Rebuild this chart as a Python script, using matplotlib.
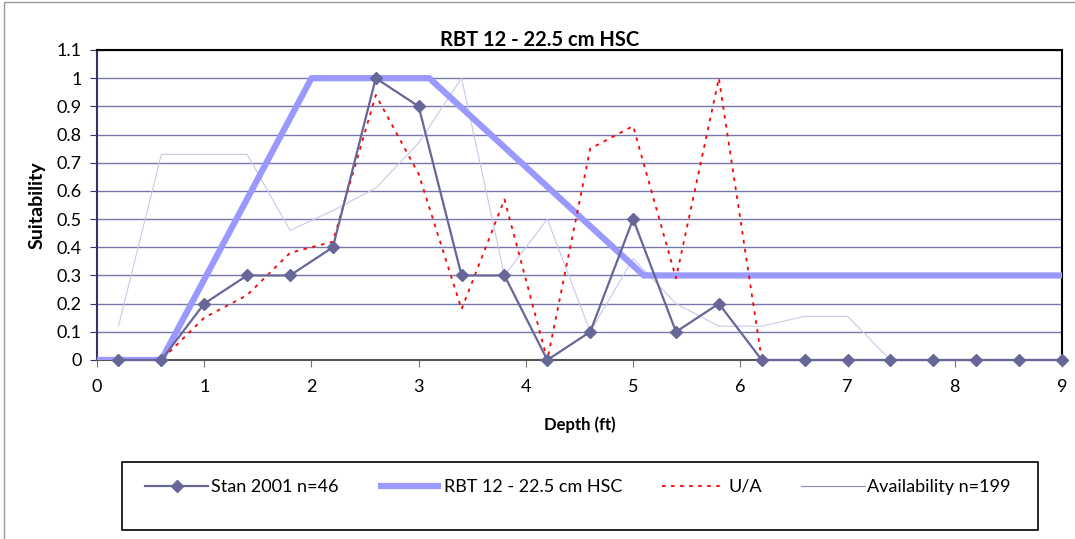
import numpy as np
import matplotlib.pyplot as plt
from matplotlib.patches import Rectangle

depth = [0.2, 0.6, 1.0, 1.4, 1.8, 2.2, 2.6, 3.0, 3.4, 3.8, 4.2, 4.6,
         5.0, 5.4, 5.8, 6.2, 6.6, 7.0, 7.4, 7.8, 8.2, 8.6, 9.0]
stan = [0, 0, 0.2, 0.3, 0.3, 0.4, 1.0, 0.9, 0.3, 0.3, 0, 0.1,
        0.5, 0.1, 0.2, 0, 0, 0, 0, 0, 0, 0, 0]
ua = [0, 0, 0.15, 0.23, 0.38, 0.42, 0.94, 0.66, 0.18, 0.57, 0, 0.75,
      0.83, 0.29, 1.0, 0, 0, 0, 0, 0, 0, 0, 0]
avail = [0.12, 0.73, 0.73, 0.73, 0.46, 0.53, 0.61, 0.77, 1.0, 0.3, 0.5, 0.1,
         0.36, 0.2, 0.12, 0.12, 0.155, 0.155, 0, 0, 0, 0, 0]
hsc_x = [0, 0.6, 2.0, 3.1, 5.1, 9.0]
hsc_y = [0, 0, 1.0, 1.0, 0.3, 0.3]

plt.rcParams['font.family'] = ['Lato', 'DejaVu Sans']

fig = plt.figure(figsize=(10.75, 5.39), dpi=100)
ax = fig.add_axes([97/1075, 1-360/539, 965/1075, 310/539])

ax.plot(hsc_x, hsc_y, color="#9999ff", lw=4.5, solid_capstyle="butt",
        label="RBT 12 - 22.5 cm HSC", zorder=3)
ax.plot(depth, avail, color="#c8c8ea", lw=0.8, label="Availability n=199", zorder=2)
ax.plot(depth, ua, color="#ff0000", lw=1.3, ls=(0, (2, 3)), label="U/A", zorder=4)
ax.plot(depth, stan, color="#666699", lw=1.6, marker="D", ms=6.5,
        label="Stan 2001 n=46", zorder=5, clip_on=False)

ax.set_xlim(0, 9)
ax.set_ylim(0, 1.1)
ax.set_xticks(range(0, 10))
ax.set_yticks(np.arange(0, 1.11, 0.1))
ax.set_yticklabels(["0", "0.1", "0.2", "0.3", "0.4", "0.5", "0.6", "0.7",
                    "0.8", "0.9", "1", "1.1"])
ax.yaxis.grid(True, color="#7777aa", lw=1.0)
ax.set_axisbelow(True)
ax.tick_params(labelsize=13, direction="out", length=5, color="#777777")
ax.tick_params(axis="x", pad=9)
ax.tick_params(axis="y", pad=6, color="#333366")
for s in ["top", "right"]:
    ax.spines[s].set_color("black")
    ax.spines[s].set_linewidth(1.5)
ax.spines["bottom"].set_color("#555555")
ax.spines["bottom"].set_linewidth(1.5)
ax.spines["left"].set_color("#333366")
ax.spines["left"].set_linewidth(1.5)

ax.set_xlabel("Depth (ft)", fontsize=12, fontweight="bold", labelpad=15)
ax.set_ylabel("Suitability", fontsize=14, fontweight="bold", labelpad=8)
fig.text(540/1075, 1-40/539, "RBT 12 - 22.5 cm HSC", fontsize=14.5,
         fontweight="bold", ha="center", va="center")

# legend box
fig.patches.append(Rectangle((122/1075, 1-530/539), 916/1075, 68/539,
                             transform=fig.transFigure, fill=False,
                             edgecolor="black", lw=1.2))
fig.patches.append(Rectangle((4/1075, -0.1), 1.2, 1-2/539 + 0.1,
                             transform=fig.transFigure, fill=False,
                             edgecolor="#999999", lw=1.0))
h, l = ax.get_legend_handles_labels()
h[1] = plt.Line2D([], [], color="#8888cc", lw=0.8)
order = [3, 0, 2, 1]
fig.legend([h[i] for i in order], [l[i] for i in order], ncol=4,
           loc="center", bbox_to_anchor=(578/1075, 1-487/539),
           frameon=False, fontsize=13, columnspacing=2.2, handlelength=3.5,
           handletextpad=0.15)

fig.savefig("out.png", dpi=100)
